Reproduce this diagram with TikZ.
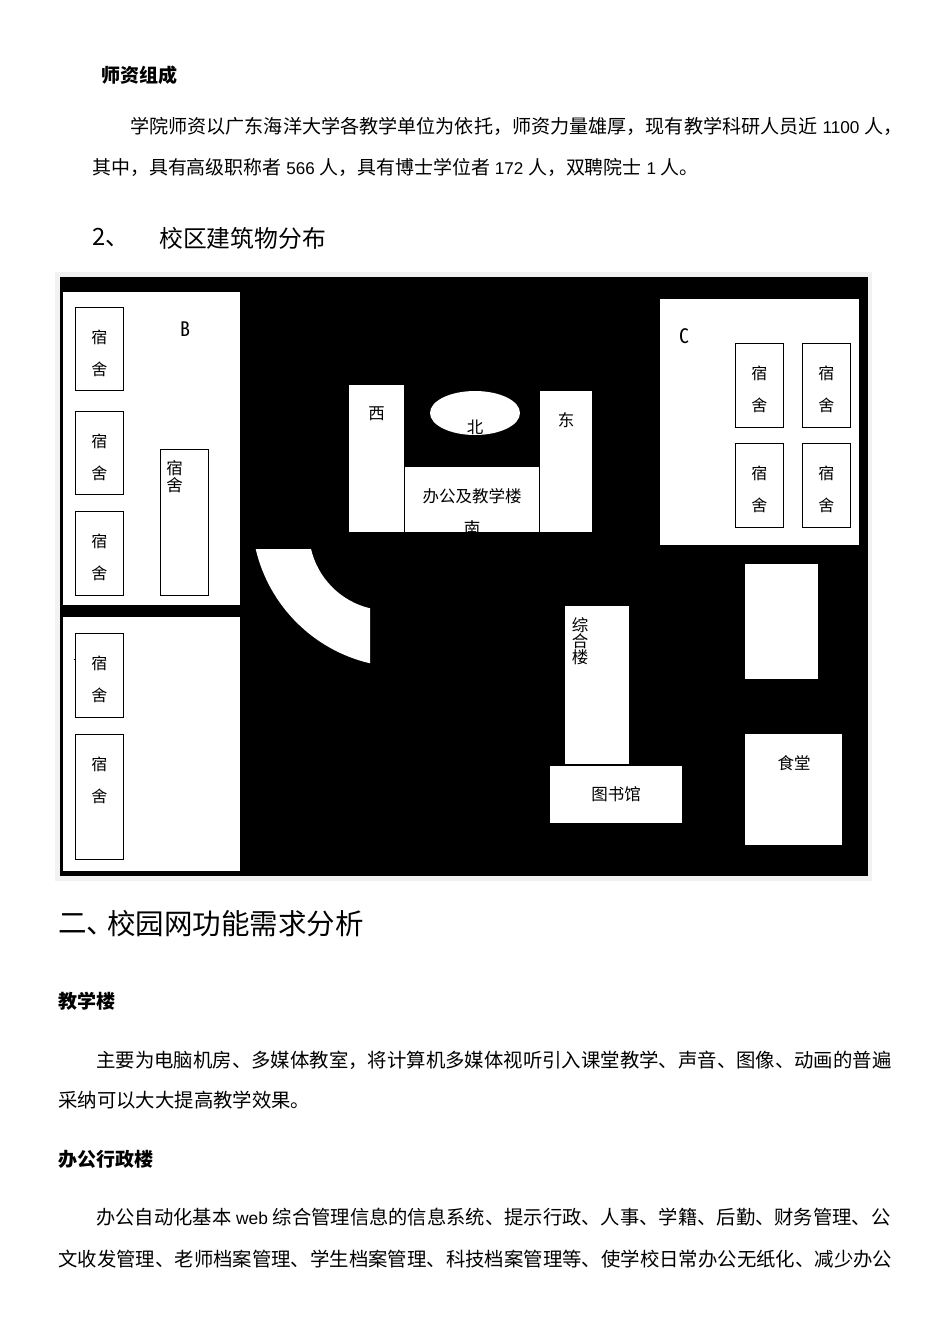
\documentclass[tikz,border=0pt]{standalone}
\usepackage{fontspec}
\usetikzlibrary{shapes.geometric}
\setmainfont{Noto Sans CJK SC}
\newfontfamily\latfont[Scale=0.9]{Liberation Sans}
\newfontfamily\narfont[RawFeature=+hwid]{Noto Sans CJK SC}
\newcommand{\lat}[1]{{\latfont\ #1\ }}
\tikzset{
  page/.style={x=1pt,y=-1pt},
  line/.style={anchor=west,inner sep=0pt,font=\fontsize{#1}{24}\selectfont},
  line/.default=19.4,
  head/.style={anchor=west,inner sep=0pt,font=\fontsize{19}{24}\selectfont\bfseries},
  bldg/.style 2 args={fill=white,inner sep=0pt,anchor=north west,minimum width=#1pt,minimum height=#2pt},
  dormbox/.style={draw=black,line width=0.8pt,fill=white,inner sep=0pt,anchor=north west,minimum width=48pt,minimum height=#1pt},
  dormtxt/.style={anchor=north,inner sep=0pt,align=center,font=\fontsize{16}{31.5}\selectfont},
  lbl/.style={inner sep=0pt,font=\fontsize{16.5}{18}\selectfont},
  zonelbl/.style={inner sep=0pt,font=\narfont\fontsize{20}{22}\selectfont},
  tight/.style={inner sep=0pt,align=center,font=\fontsize{16.5}{#1}\selectfont},
}
\begin{document}
\begin{tikzpicture}[page]
\useasboundingbox (0,0) rectangle (950,1344);
\fill[white] (0,0) rectangle (950,1344);

\node[head] (teachers) at (101,75) {师资组成};
\node[line=19.1] (l1) at (130,126) {学院师资以广东海洋大学各教学单位为依托，师资力量雄厚，现有教学科研人员近\lat{1100}人，};
\node[line=18.95] (l2) at (92,167) {其中，具有高级职称者\lat{566}人，具有博士学位者\lat{172}人，双聘院士\lat{1}人。};
\node[line=23.8] (num2) at (92,238) {2、};
\node[line=23.8] (campus) at (159,238) {校区建筑物分布};

\fill[black!5] (55,272) rectangle (872,881);
\fill[black] (60,277) rectangle (868,876);

\node[bldg={177}{313}] (zoneB) at (63,292) {};
\node[bldg={177}{254}] (zoneA) at (63,617) {};
\node[bldg={199}{246}] (zoneC) at (660,299) {};
\node[zonelbl] (labB) at (185,329) {B};
\node[zonelbl] (labC) at (684.5,336) {C};

\foreach \n/\x/\y/\h in {a/75/307/83,b/75/411/83,c/75/511/84,d/75/633/84,e/75/734/125,f/735/343/84,g/802/343/84,h/735/443/84,i/802/443/84} {
  \node[dormbox=\h] (dorm\n) at (\x,\y) {};
  \node[dormtxt] (txt\n) at ([yshift=-23pt]dorm\n.north) {宿\\舍};
}
\node[dormbox=146] (dormj) at (160,449) {};
\node[tight=17.5,anchor=north] (txtj) at (174.5,460) {宿\\舍};
\draw[line width=0.8pt] (73.5,659.5) -- (75,659.5);

\node[bldg={54.5}{147}] (west) at (349,385) {};
\node[lbl] (westtxt) at (376.5,414) {西};
\node[ellipse,fill=white,inner sep=0pt,minimum width=90pt,minimum height=44pt] (north) at (475,413) {};
\node[lbl] (northtxt) at (475,427) {北};
\node[bldg={134}{65}] (office) at (405,467) {};
\node[lbl] (officetxt) at (472,496) {办公及教学楼};
\begin{scope}
\clip (405,467) rectangle (539,532);
\node[lbl] (southtxt) at (472,528) {南};
\end{scope}
\node[bldg={52}{141}] (east) at (540,391) {};
\node[lbl] (easttxt) at (566,420) {东};

\fill[white] (255.7,549) .. controls (269,605.7) and (313.3,650) .. (370,663.3) -- (370,608.3)
  .. controls (340.7,601.4) and (317.9,578.3) .. (311,549) -- cycle;

\node[bldg={64}{158}] (general) at (565,606) {};
\node[tight=16,anchor=north] (generaltxt) at (580,617) {综\\合\\楼};
\node[bldg={132}{57}] (library) at (550,766) {};
\node[lbl] (librarytxt) at (616,794) {图书馆};
\node[bldg={73}{115}] (blank) at (745,564) {};
\node[bldg={97}{111}] (canteen) at (745,734) {};
\node[lbl] (canteentxt) at (794,763) {食堂};

\node[line=28.5] (sec2num) at (58,924) {二、};
\node[line=28.5] (sec2) at (107,924) {校园网功能需求分析};
\node[head] (teach) at (58,1001) {教学楼};
\node[line] (l3) at (96,1060) {主要为电脑机房、多媒体教室，将计算机多媒体视听引入课堂教学、声音、图像、动画的普遍};
\node[line] (l4) at (58,1100) {采纳可以大大提高教学效果。};
\node[head] (admin) at (58,1159) {办公行政楼};
\node[line=19.3] (l5) at (96,1217) {办公自动化基本\lat{web}综合管理信息的信息系统、提示行政、人事、学籍、后勤、财务管理、公};
\node[line] (l6) at (58,1259) {文收发管理、老师档案管理、学生档案管理、科技档案管理等、使学校日常办公无纸化、减少办公};
\end{tikzpicture}
\end{document}
